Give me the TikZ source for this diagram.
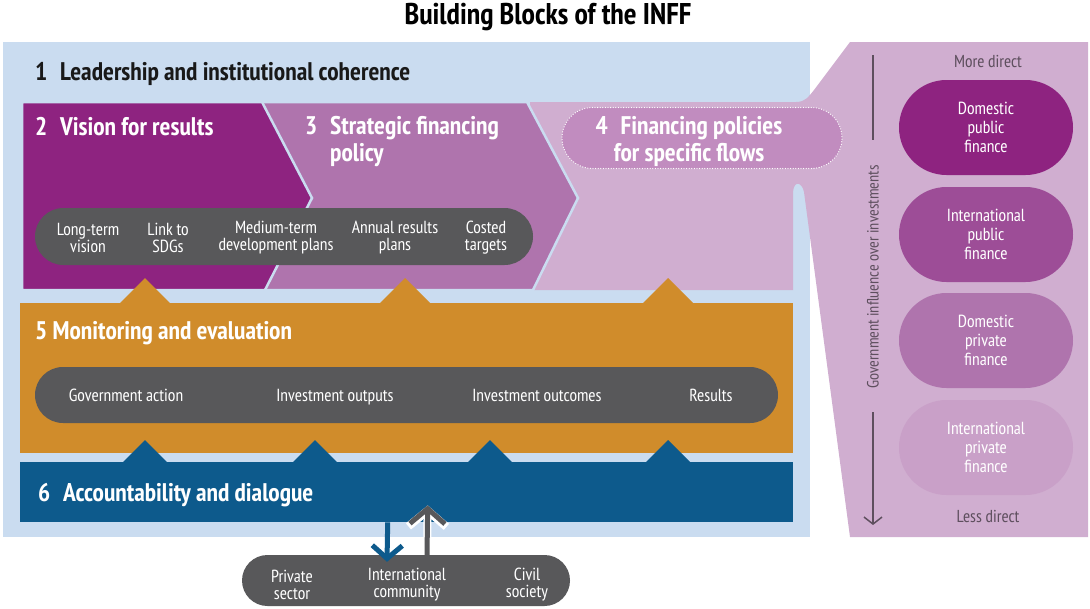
\documentclass[tikz,border=0pt]{standalone}
\usepackage{fontspec}
\setmainfont{PT Sans Narrow}
\usepackage{tikz}
\usetikzlibrary{shapes.misc}
\usetikzlibrary{arrows.meta}
\usetikzlibrary{calc}
\usetikzlibrary{positioning}

\definecolor{bgblue}{HTML}{CADCF0}
\definecolor{vision}{HTML}{8E2380}
\definecolor{strategy}{HTML}{AF74AD}
\definecolor{flows}{HTML}{D0AED0}
\definecolor{flowsbox}{HTML}{C18CBF}
\definecolor{monitor}{HTML}{D08C2B}
\definecolor{account}{HTML}{0D5A8C}
\definecolor{pillgrey}{HTML}{58585A}
\definecolor{axisgrey}{HTML}{5E4F5E}
\definecolor{intpub}{HTML}{9D4D97}
\definecolor{intpriv}{HTML}{C9A0C8}

\tikzstyle{pill} = [rounded rectangle, fill=pillgrey, inner sep=0pt]
\tikzstyle{pilltext} = [text=white, align=center, font=\fontsize{17.5}{17}\selectfont]
\tikzstyle{chaintext} = [pilltext, text height=12, text depth=3.5]
\tikzstyle{financetext} = [text=white, align=center, font=\fontsize{17.5}{19}\selectfont]
\tikzstyle{blocktitle} = [text=white, anchor=west, align=left, inner xsep=0pt, font=\bfseries\fontsize{25.5}{27}\selectfont]
\tikzstyle{sidetext} = [text=axisgrey, font=\fontsize{17.3}{17}\selectfont]

\begin{document}
\begin{tikzpicture}[x=1pt,y=-1pt]
\useasboundingbox (0,0) rectangle (1090,608);

\node[font=\bfseries\fontsize{30}{32}\selectfont] (title) at (548,17) {Building Blocks of the INFF};

% 1 leadership background
\fill[bgblue] (3,42) rectangle (810,537);

% 4 flows + right panel
\fill[flows] (530,102) -- (796,102) .. controls (806,102) and (809,96) .. (814,90) -- (850,42)
  -- (1088,42) -- (1088,537) -- (850,537) -- (804,192) .. controls (802,182) and (794,180) .. (793,192)
  -- (793,290) -- (530,290) -- cycle;

% 3 and 2 chevrons
\draw[fill=strategy, draw=bgblue, line width=2.5] (22,102) -- (527,102) -- (578,198) -- (533,290) -- (22,290) -- cycle;
\draw[fill=vision, draw=bgblue, line width=2.5] (22,102) -- (262,102) -- (312,198) -- (265,290) -- (22,290) -- cycle;

\node[blocktitle, text=black!90] (lead) at (35,74) {1\enspace Leadership and institutional coherence};
\node[blocktitle] (visiontitle) at (35,127) {2\enspace Vision for results};
\node[blocktitle, anchor=north west, inner sep=0pt] (strategytitle) at (305,116) {3\enspace Strategic financing\\\phantom{3\enspace}policy};

\node[rounded rectangle, fill=flowsbox, draw=white, line width=1.3, line cap=round, dash pattern=on 0pt off 2.6pt,
  minimum width=280, minimum height=61, inner sep=0pt] (flowsbox) at (702,138) {};
\node[blocktitle, anchor=center, align=center] (flowstitle) at (689,141.5) {4\enspace Financing policies\\for specific flows};

% plans pill
\node[pill, minimum width=498, minimum height=57] (plans) at (284,236.5) {};
\node[pilltext] (longterm) at (88,238) {Long-term\\vision};
\node[pilltext] (sdgs) at (168,238) {Link to\\SDGs};
\node[pilltext] (medium) at (276,238) {Medium-term\\development plans};
\node[pilltext] (annual) at (395,238) {Annual results\\plans};
\node[pilltext] (costed) at (486,238) {Costed\\targets};

% 5 monitoring
\fill[monitor] (20,303) rectangle (793,453);
\foreach \x in {145,405,668}
  \fill[monitor] (\x-26,304) -- (\x,278) -- (\x+26,304) -- cycle;
\node[blocktitle] (monitortitle) at (35,333) {5 Monitoring and evaluation};

\node[pill, minimum width=743, minimum height=56] (chain) at (406.5,395) {};
\node[chaintext] (govaction) at (126,397) {Government action};
\node[chaintext] (outputs) at (335,397) {Investment outputs};
\node[chaintext] (outcomes) at (537,397) {Investment outcomes};
\node[chaintext] (results) at (711,397) {Results};

% 6 accountability
\node[fill=account, minimum width=773, minimum height=60, inner sep=0pt, anchor=north west] (dialogue) at (20,462) {};
\foreach \x in {145,315,490,668}
  \fill[account] (\x-23,463) -- (\x,440) -- (\x+23,463) -- cycle;
\node[blocktitle] (dialoguetitle) at (38,495) {6\enspace Accountability and dialogue};

% stakeholders
\node[pill, minimum width=328, minimum height=51] (actors) at (406,580.5) {};
\node[pilltext] (private) at (292,585) {Private\\sector};
\node[pilltext] (community) at (407,585) {International\\community};
\node[pilltext] (civil) at (527,585) {Civil\\society};

\draw[account, line width=5, -{Straight Barb[length=13pt, width=30pt]}] ([xshift=-19pt]dialogue.south) -- ([xshift=-19pt, yshift=-7pt]actors.north);
\draw[white, line width=8, -{Straight Barb[length=16pt, width=38pt]}] ([xshift=21pt]actors.north) -- ([xshift=21pt, yshift=17pt]dialogue.south);
\draw[pillgrey, line width=5, -{Straight Barb[length=15pt, width=35pt]}] ([xshift=21pt]actors.north) -- ([xshift=21pt, yshift=17pt]dialogue.south);

% right panel
\coordinate (MORE) at (873,55);
\coordinate (LESS) at (873,525);
\node[sidetext, rotate=90, font=\fontsize{16.3}{17}\selectfont] (influence) at (873,277) {Government influence over investments};
\draw[axisgrey, line width=1.5] (MORE) -- ++(0,85);
\draw[axisgrey, line width=1.5, -{Straight Barb[length=7pt, width=18pt]}] ($(LESS)+(0,-113)$) -- (LESS);
\node[sidetext] (moredirect) at (988,61) {More direct};
\node[sidetext] (lessdirect) at (988,516) {Less direct};

\node[pill, fill=vision, minimum width=174, minimum height=95] (dompub) at (986,127.5) {};
\node[pill, fill=intpub, minimum width=174, minimum height=95] (intpub) at (986,234.5) {};
\node[pill, fill=strategy, minimum width=174, minimum height=95] (dompriv) at (986,340.5) {};
\node[pill, fill=intpriv, minimum width=174, minimum height=95] (intpriv) at (986,447.5) {};
\node[financetext] at (dompub) {Domestic\\public\\finance};
\node[financetext] at (intpub) {International\\public\\finance};
\node[financetext] at (dompriv) {Domestic\\private\\finance};
\node[financetext] at (intpriv) {International\\private\\finance};

\end{tikzpicture}
\end{document}
